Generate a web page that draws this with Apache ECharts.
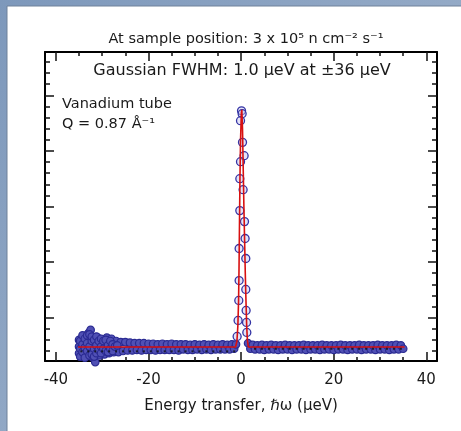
<!DOCTYPE html>
<html><head><meta charset="utf-8">
<script src="https://cdn.jsdelivr.net/npm/echarts@6/dist/echarts.min.js"></script>
<style>html,body{margin:0;padding:0;background:#fff}#c{width:461px;height:431px}</style>
</head><body><div id="c"></div>
<script>
// ---- axis ticks ----
const xMajor = [-40, -20, 0, 20, 40];
const xMinor = [-35, -30, -25, -15, -10, -5, 5, 10, 15, 25, 30, 35];
const yMajor = [5, 10, 15, 20, 25];
const yMinor = [2, 3, 4, 6, 7, 8, 9, 11, 12, 13, 14, 16, 17, 18, 19, 21, 22, 23, 24, 26, 27, 28];

// ---- measured points, left of elastic peak ----
const leftX = [-35, -34.5, -34, -33.5, -33, -32.5, -32, -31.5, -31, -30.5, -30, -29.5, -29, -28.5, -28, -27.5, -27, -26.5, -26, -25.5, -25, -24.5, -24, -23.5, -23, -22.5, -22, -21.5, -21, -20.5, -20, -19.5, -19, -18.5, -18, -17.5, -17, -16.5, -16, -15.5, -15, -14.5, -14, -13.5, -13, -12.5, -12, -11.5, -11, -10.5, -10, -9.5, -9, -8.5, -8, -7.5, -7, -6.5, -6, -5.5, -5, -4.5, -4, -3.5, -3, -2.5, -2, -1.5, -1.1];
const leftY = [2.4, 1.6, 3.3, 1.5, 3.6, 3.9, 1.4, 1.0, 3.2, 1.6, 3.0, 1.7, 3.2, 1.8, 3.1, 1.9, 2.9, 1.9, 2.8, 2.0, 2.8, 2.05, 2.75, 2.05, 2.7, 2.1, 2.7, 2.05, 2.7, 2.1, 2.65, 2.1, 2.65, 2.05, 2.6, 2.1, 2.65, 2.1, 2.6, 2.1, 2.65, 2.1, 2.6, 2.05, 2.6, 2.15, 2.6, 2.1, 2.55, 2.1, 2.6, 2.15, 2.55, 2.1, 2.6, 2.15, 2.55, 2.1, 2.6, 2.15, 2.55, 2.15, 2.6, 2.15, 2.55, 2.15, 2.6, 2.2, 2.6];

// ---- extra measured points in the noisy low-energy region ----
const blobX = [-35.0, -35.0, -34.75, -34.75, -34.75, -34.25, -34.25, -34.25, -33.75, -33.75, -33.75, -33.25, -33.25, -33.25, -32.75, -32.75, -32.75, -32.25, -32.25, -32.25, -31.75, -31.75, -31.75, -31.25, -31.25, -31.25, -30.75, -30.75, -30.25, -30.25, -30.25, -29.75, -29.75, -29.25, -29.25, -28.75, -28.75, -28.25, -28.25, -27.75, -27.75, -27.25, -26.75];
const blobY = [1.8, 3.0, 2.2, 2.9, 1.5, 2.6, 1.9, 3.4, 2.3, 3.1, 1.4, 2.0, 3.4, 2.7, 2.4, 3.5, 1.6, 2.9, 1.7, 3.3, 2.2, 3.0, 1.5, 2.5, 1.8, 3.3, 2.1, 2.9, 2.4, 1.8, 3.1, 2.2, 2.9, 2.0, 3.0, 2.5, 1.9, 2.2, 2.9, 2.6, 2.0, 2.4, 2.5];

// ---- measured points on the elastic peak ----
const peakX = [0.09, 0.22, -0.13, 0.30, 0.65, -0.13, -0.28, 0.43, -0.28, 0.73, 0.86, -0.43, 1.01, -0.43, 1.01, -0.50, 1.08, -0.65, 1.17, 1.23, -0.86];
const peakY = [23.61, 23.35, 22.72, 20.77, 19.57, 19.03, 17.50, 16.51, 14.63, 13.64, 12.12, 11.22, 10.32, 8.34, 7.54, 6.55, 5.65, 4.75, 4.57, 3.67, 3.31];

// ---- measured points, right of elastic peak ----
const rightX = [1.5, 2, 2.5, 3, 3.5, 4, 4.5, 5, 5.5, 6, 6.5, 7, 7.5, 8, 8.5, 9, 9.5, 10, 10.5, 11, 11.5, 12, 12.5, 13, 13.5, 14, 14.5, 15, 15.5, 16, 16.5, 17, 17.5, 18, 18.5, 19, 19.5, 20, 20.5, 21, 21.5, 22, 22.5, 23, 23.5, 24, 24.5, 25, 25.5, 26, 26.5, 27, 27.5, 28, 28.5, 29, 29.5, 30, 30.5, 31, 31.5, 32, 32.5, 33, 33.5, 34, 34.5, 35];
const rightY = [2.7, 2.2, 2.55, 2.15, 2.5, 2.15, 2.55, 2.1, 2.5, 2.15, 2.55, 2.15, 2.5, 2.1, 2.5, 2.15, 2.55, 2.15, 2.5, 2.1, 2.5, 2.15, 2.5, 2.15, 2.55, 2.1, 2.5, 2.15, 2.5, 2.15, 2.5, 2.1, 2.55, 2.15, 2.5, 2.15, 2.5, 2.1, 2.5, 2.15, 2.55, 2.15, 2.5, 2.1, 2.5, 2.15, 2.5, 2.15, 2.55, 2.1, 2.5, 2.15, 2.5, 2.15, 2.5, 2.1, 2.55, 2.15, 2.5, 2.15, 2.5, 2.1, 2.5, 2.15, 2.55, 2.15, 2.5, 2.2];

// ---- small black markers along the background ----
const dotLeftX = [-34.5, -33, -31.5, -30, -28.5, -27, -25.5, -24, -22.5, -21, -19.5, -18, -16.5, -15, -13.5, -12, -10.5, -9, -7.5, -6, -4.5, -3, -1.5];
const dotLeftY = [1.97, 1.97, 1.97, 1.97, 1.97, 1.97, 1.97, 1.97, 1.97, 1.97, 1.97, 1.97, 1.97, 1.97, 1.97, 1.97, 1.97, 1.97, 1.97, 1.97, 1.97, 1.97, 1.97];
const dotRightX = [3, 4.5, 6, 7.5, 9, 10.5, 12, 13.5, 15, 16.5, 18, 19.5, 21, 22.5, 24, 25.5, 27, 28.5, 30, 31.5, 33, 34.5];
const dotRightY = [2.2, 2.2, 2.2, 2.2, 2.2, 2.2, 2.2, 2.2, 2.2, 2.2, 2.2, 2.2, 2.2, 2.2, 2.2, 2.2, 2.2, 2.2, 2.2, 2.2, 2.2, 2.2];

// ---- Gaussian fit curve ----
const fitX = [-35.2, -1.2, -0.9, -0.7, -0.55, -0.45, -0.35, -0.25, -0.12, 0.05, 0.15, 0.3, 0.45, 0.6, 0.75, 0.9, 1.05, 1.2, 1.35, 1.55, 35.3];
const fitY = [2.36, 2.36, 2.9, 4.3, 6.5, 9.5, 13.5, 17.5, 21.0, 23.4, 23.7, 22.0, 18.5, 15.0, 12.0, 9.0, 6.5, 4.3, 3.0, 2.36, 2.36];

const zip = (a, b) => a.map((v, i) => [v, b[i]]);
const background = zip(leftX, leftY).concat(zip(blobX, blobY), zip(rightX, rightY));
const peak = zip(peakX, peakY);
const dots = zip(dotLeftX, dotLeftY).concat(zip(dotRightX, dotRightY));
const fit = zip(fitX, fitY);

const FONT = 'DejaVu Sans';
const TXT = '#1a1a1a';
const XMIN = -42.35, XMAX = 42.3, YMIN = 1.1, YMAX = 28.9;
const gridPos = { left: 45, right: 24, top: 52, bottom: 70 };

function xAx(grid, pos, ticks, len, main) {
  return {
    type: 'value', gridIndex: grid, position: pos, min: XMIN, max: XMAX,
    axisLine: { show: main !== undefined, onZero: false, lineStyle: { color: '#000', width: 2 } },
    axisTick: { show: true, inside: true, length: len, customValues: ticks, lineStyle: { color: '#111', width: 1.5 } },
    axisLabel: main ? { show: true, customValues: xMajor, margin: 12, color: TXT, fontFamily: FONT, fontSize: 15 } : { show: false },
    splitLine: { show: false },
    name: main ? 'Energy transfer, \u210F\u03C9 (\u00B5eV)' : '',
    nameLocation: 'middle', nameGap: 38,
    nameTextStyle: { color: TXT, fontFamily: FONT, fontSize: 15 }
  };
}
function yAx(grid, pos, ticks, len, line) {
  return {
    type: 'value', gridIndex: grid, position: pos, min: YMIN, max: YMAX,
    axisLine: { show: !!line, onZero: false, lineStyle: { color: '#000', width: 2 } },
    axisTick: { show: true, inside: true, length: len, customValues: ticks, lineStyle: { color: '#111', width: 1.5 } },
    axisLabel: { show: false },
    splitLine: { show: false }
  };
}

const chart = echarts.init(document.getElementById('c'), null, { renderer: 'canvas' });
chart.setOption({
  animation: false,
  grid: [Object.assign({}, gridPos), Object.assign({}, gridPos)],
  xAxis: [
    xAx(0, 'bottom', xMajor, 9, true),
    xAx(0, 'top', xMajor, 9, false),
    xAx(1, 'bottom', xMinor, 4),
    xAx(1, 'top', xMinor, 4)
  ],
  yAxis: [
    yAx(0, 'left', yMajor, 9, true),
    yAx(0, 'right', yMajor, 9, true),
    yAx(1, 'left', yMinor, 5, false),
    yAx(1, 'right', yMinor, 5, false)
  ],
  graphic: [
    { type: 'rect', z: -10, shape: { x: 0, y: 0, width: 461, height: 431 },
      style: { fill: new echarts.graphic.LinearGradient(0, 0, 1, 1, [{ offset: 0, color: '#7d98bb' }, { offset: 1, color: '#a7b9d0' }]) } },
    { type: 'rect', z: -9, shape: { x: 7, y: 6, width: 460, height: 430 },
      style: { fill: '#ffffff', stroke: '#6f819a', lineWidth: 1 } },
    { type: 'text', z: 10, x: 246, y: 39,
      style: { text: 'At sample position: 3 x 10\u2075 n cm\u207B\u00B2 s\u207B\u00B9', fill: TXT, font: '14.5px "DejaVu Sans"', align: 'center', verticalAlign: 'middle' } },
    { type: 'text', z: 10, x: 242, y: 71,
      style: { text: 'Gaussian FWHM: 1.0 \u00B5eV at \u00B136 \u00B5eV', fill: TXT, font: '16px "DejaVu Sans"', align: 'center', verticalAlign: 'middle' } },
    { type: 'text', z: 10, x: 62, y: 104,
      style: { text: 'Vanadium tube', fill: TXT, font: '14.5px "DejaVu Sans"', align: 'left', verticalAlign: 'middle' } },
    { type: 'text', z: 10, x: 62, y: 124,
      style: { text: 'Q = 0.87 \u00C5\u207B\u00B9', fill: TXT, font: '14.5px "DejaVu Sans"', align: 'left', verticalAlign: 'middle' } }
  ],
  series: [
    { type: 'scatter', xAxisIndex: 0, yAxisIndex: 0, data: background, clip: false, z: 2,
      symbol: 'circle', symbolSize: 7.5,
      itemStyle: { color: '#5050b4', borderColor: '#2a2a92', borderWidth: 1.2, opacity: 1 } },
    { type: 'scatter', xAxisIndex: 0, yAxisIndex: 0, data: peak, clip: false, z: 2,
      symbol: 'circle', symbolSize: 8,
      itemStyle: { color: 'rgba(190,190,240,0.45)', borderColor: '#3434a4', borderWidth: 1.3, opacity: 1 } },
    { type: 'line', xAxisIndex: 0, yAxisIndex: 0, data: fit, z: 3, showSymbol: false, symbol: 'none',
      lineStyle: { color: '#d81010', width: 1.6 } },
    { type: 'scatter', xAxisIndex: 0, yAxisIndex: 0, data: dots, clip: false, z: 4,
      symbol: 'rect', symbolSize: 2, itemStyle: { color: '#111' } }
  ]
});
</script></body></html>
